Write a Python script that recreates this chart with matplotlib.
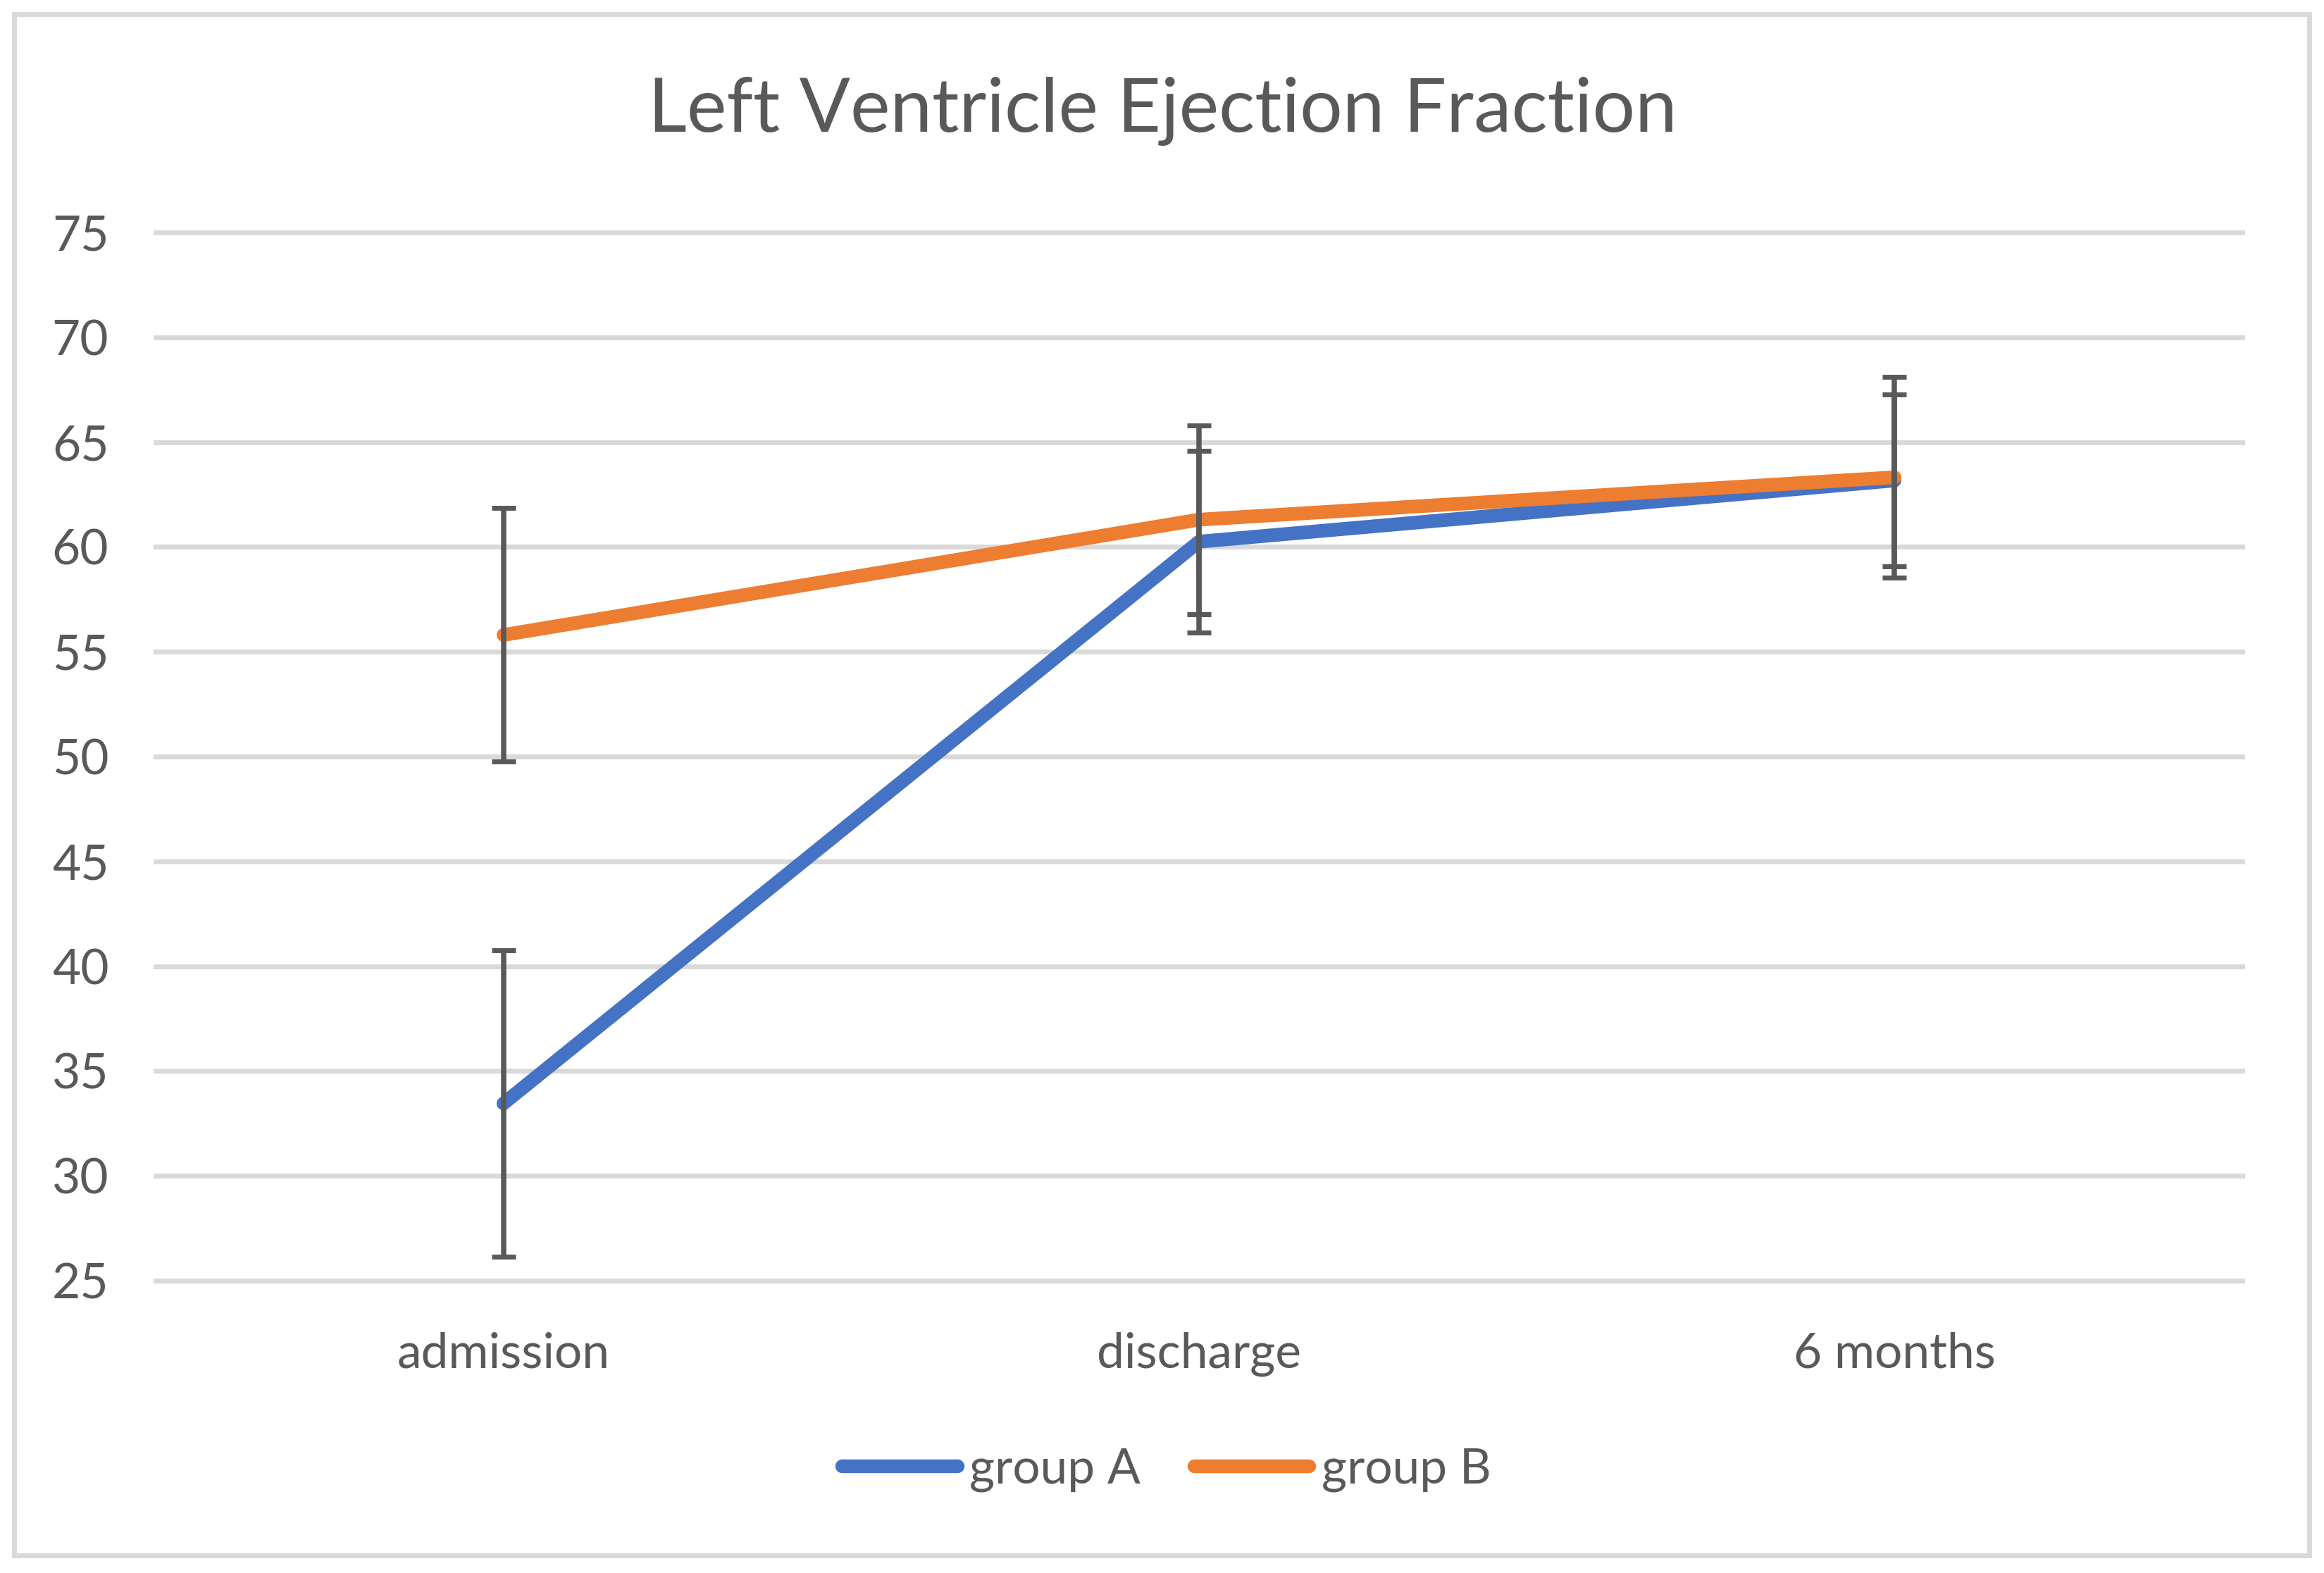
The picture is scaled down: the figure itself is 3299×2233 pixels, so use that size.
import matplotlib
matplotlib.use("Agg")
import matplotlib.pyplot as plt
from matplotlib.patches import Rectangle
from matplotlib.lines import Line2D

categories = ["admission", "discharge", "6 months"]
group_a = [33.45, 60.25, 63.17]
group_a_err = [7.3, 4.33, 4.1]
group_b = [55.8, 61.3, 63.32]
group_b_err = [6.05, 4.5, 4.8]
y_ticks = [25, 30, 35, 40, 45, 50, 55, 60, 65, 70, 75]
title = "Left Ventricle Ejection Fraction"

plt.rcParams['font.family'] = ['Lato', 'DejaVu Sans']
TXT = '#595959'
BLUE = '#4472C4'
ORANGE = '#ED7D31'
GRID = '#D9D9D9'

fig = plt.figure(figsize=(32.99, 22.33), dpi=100)
fig.patch.set_facecolor('white')
fig.add_artist(Rectangle((20/3299, 1-2208/2233), (3278-20)/3299, (2208-20)/2233,
                         transform=fig.transFigure, fill=False, edgecolor=GRID, lw=5))

ax = fig.add_axes([221/3299, 1-1818/2233, (3183-221)/3299, (1818-330)/2233])
x = list(range(len(categories)))

for t in y_ticks:
    ax.axhline(t, color=GRID, lw=5, zorder=0, clip_on=False)

ax.plot(x, group_a, color=BLUE, lw=14, solid_capstyle='round', zorder=3, label='group A')
ax.plot(x, group_b, color=ORANGE, lw=14, solid_capstyle='round', zorder=4, label='group B')
ax.errorbar(x, group_a, yerr=group_a_err, fmt='none', ecolor=TXT, elinewidth=5.4,
            capsize=12.5, capthick=5, zorder=5)
ax.errorbar(x, group_b, yerr=group_b_err, fmt='none', ecolor=TXT, elinewidth=5.4,
            capsize=12.5, capthick=5, zorder=5)

ax.set_xlim(-0.5, 2.5)
ax.set_ylim(25, 75)
ax.set_yticks(y_ticks)
ax.set_xticks(x)
ax.set_xticklabels(categories)
for s in ax.spines.values():
    s.set_visible(False)
ax.tick_params(axis='both', length=0, labelsize=50, labelcolor=TXT)
ax.tick_params(axis='y', pad=48)
ax.tick_params(axis='x', pad=52)
ax.set_facecolor('none')

fig.text(1650/3299, 1-158/2233, title, ha='center', va='center', fontsize=77, color=TXT)

handles = [Line2D([], [], color=BLUE, lw=14, solid_capstyle='round'),
           Line2D([], [], color=ORANGE, lw=14, solid_capstyle='round')]
leg = fig.legend(handles, ['group A', 'group B'], loc='center', bbox_to_anchor=(1656/3299, 1-2086/2233),
                 ncol=2, frameon=False, fontsize=50, handlelength=2.35, handletextpad=0.25,
                 columnspacing=1.1, labelcolor=TXT)

fig.savefig('out.png', dpi=100, facecolor='white')
